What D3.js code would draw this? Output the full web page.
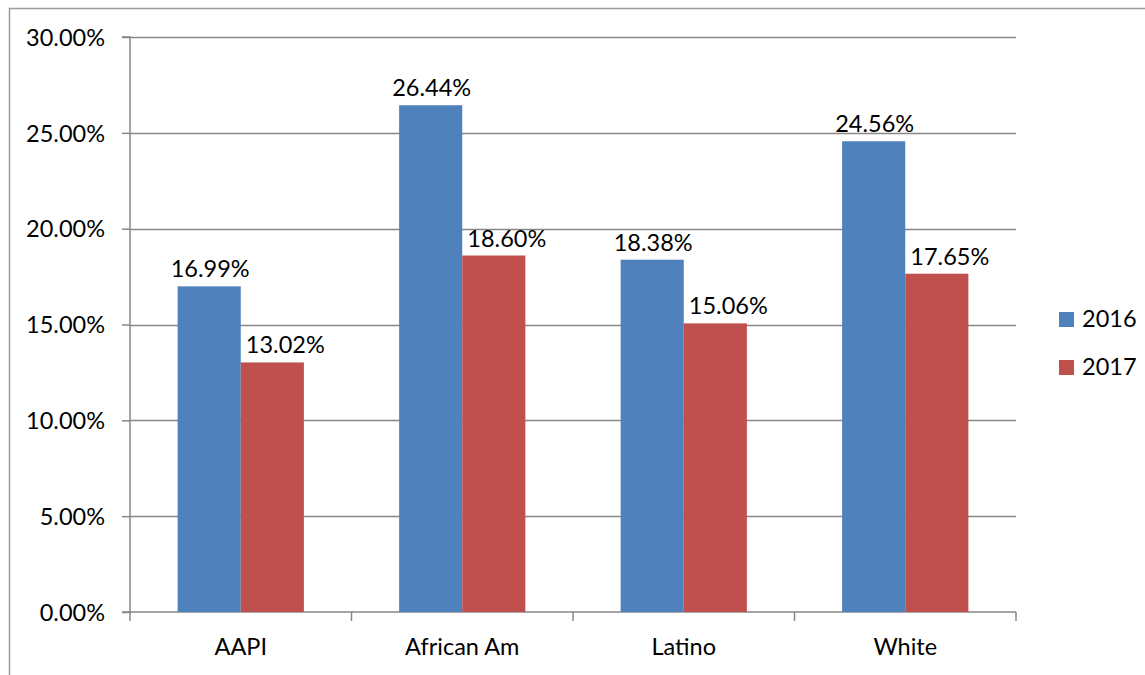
<!DOCTYPE html>
<html><head><meta charset="utf-8">
<script src="https://cdn.jsdelivr.net/npm/d3@7"></script>
<style>body{margin:0;background:#fff}svg{display:block}text{font-family:Lato,"Open Sans",sans-serif;fill:#000}</style>
</head><body><svg id="c" width="1145" height="675"></svg>
<script>
const categories = ["AAPI", "African Am", "Latino", "White"];
const seriesNames = ["2016", "2017"];
const values2016 = [16.99, 26.44, 18.38, 24.56];
const values2017 = [13.02, 18.60, 15.06, 17.65];
const yTicks = [0, 5, 10, 15, 20, 25, 30];
const colors = ["#4F81BD", "#C0504D"];

const FS = 23.5;
const svg = d3.select("#c");
const W = 1145, H = 675;
const m = {left: 130, right: 129, top: 37, bottom: 63};
const x0 = d3.scaleBand().domain(categories).range([m.left, W - m.right]).paddingInner(0.43).paddingOuter(0.215);
const x1 = d3.scaleBand().domain(seriesNames).range([0, x0.bandwidth()]);
const y = d3.scaleLinear().domain([0, 30]).range([H - m.bottom, m.top]);
const xOuter = d3.scaleBand().domain(categories).range([m.left, W - m.right]);

// chart frame
svg.append("path").attr("d", `M9.5,${H} V8.5 H${W}`).attr("fill", "none").attr("stroke", "#9a9a9a").attr("stroke-width", 1.5);

// gridlines
svg.append("g").selectAll("line").data(yTicks.filter(d => d > 0)).join("line")
  .attr("x1", m.left).attr("x2", W - m.right)
  .attr("y1", d => Math.round(y(d)) + 0.5).attr("y2", d => Math.round(y(d)) + 0.5)
  .attr("stroke", "#878787").attr("stroke-width", 1.5);

// y axis
const ya = svg.append("g").attr("transform", `translate(${m.left},0)`)
  .call(d3.axisLeft(y).tickValues(yTicks).tickSize(8).tickPadding(17).tickFormat(d => d.toFixed(2) + "%"));
ya.select(".domain").attr("stroke", "#878787").attr("stroke-width", 1.5).attr("d", `M-8,${y(0)}H0V${y(30)}H-8`);
ya.selectAll(".tick line").attr("stroke", "#878787").attr("stroke-width", 1.5);
ya.selectAll(".tick text").attr("font-size", FS).attr("font-family", "Lato").attr("fill", "#000").attr("dy", "0.35em");

// x axis
const xa = svg.append("g").attr("transform", `translate(0,${y(0)})`);
xa.append("line").attr("x1", m.left).attr("x2", W - m.right).attr("y1", 0).attr("y2", 0).attr("stroke", "#878787").attr("stroke-width", 1.5);
const bounds = categories.map(c => xOuter(c)).concat([W - m.right]);
xa.selectAll("line.t").data(bounds).join("line").attr("class", "t")
  .attr("x1", d => d).attr("x2", d => d).attr("y1", 0).attr("y2", 9).attr("stroke", "#878787").attr("stroke-width", 1.5);
xa.selectAll("text").data(categories).join("text")
  .attr("x", d => xOuter(d) + xOuter.bandwidth() / 2).attr("y", 43)
  .attr("text-anchor", "middle").attr("font-size", FS).text(d => d);

// bars
const series = [values2016, values2017];
const g = svg.append("g");
series.forEach((vals, si) => {
  g.selectAll(null).data(vals).join("rect")
    .attr("x", (d, i) => x0(categories[i]) + x1(seriesNames[si]))
    .attr("width", x1.bandwidth())
    .attr("y", d => y(d)).attr("height", d => y(0) - y(d))
    .attr("fill", colors[si]);
  g.selectAll(null).data(vals).join("text")
    .attr("x", (d, i) => x0(categories[i]) + x1(seriesNames[si]) + x1.bandwidth() / 2 + (si === 0 ? 1 : 13))
    .attr("y", d => y(d) - 9)
    .attr("text-anchor", "middle").attr("font-size", FS)
    .text(d => d.toFixed(2) + "%");
});

// legend
const lg = svg.append("g");
seriesNames.forEach((s, i) => {
  const by = 327 + i * 48;
  lg.append("rect").attr("x", 1059).attr("y", by - 15).attr("width", 15).attr("height", 15).attr("fill", colors[i]);
  lg.append("text").attr("x", 1082).attr("y", by).attr("font-size", FS).text(s);
});
</script></body></html>
